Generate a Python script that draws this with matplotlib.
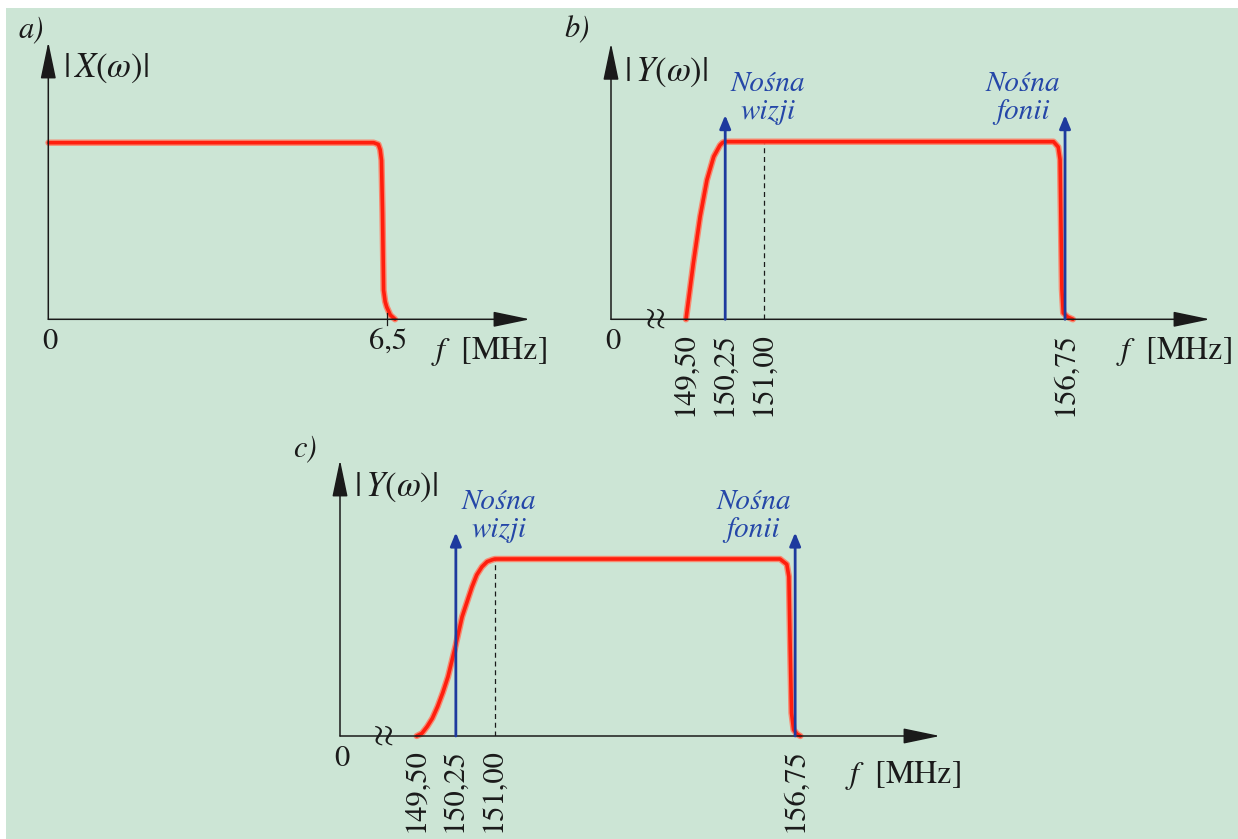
import numpy as np
import matplotlib
matplotlib.use("Agg")
import matplotlib.pyplot as plt
from matplotlib.patches import Rectangle

plt.rcParams['font.family'] = ['STIXGeneral', 'Liberation Serif', 'DejaVu Serif']
plt.rcParams['mathtext.fontset'] = 'stix'

W, H = 1238, 839
BG = '#cce5d5'
RED_CORE = '#ff1e0e'
RED_GLOW = '#ff7a60'
BLUE = '#1e3a9e'
BLUE_TXT = '#2547a8'
INK = '#1a1a1a'

# a) baseband video spectrum |X(w)|
freq_a = [0.0, 6.25, 6.34, 6.375, 6.40, 6.42, 6.44, 6.47, 6.50, 6.57, 6.66]
amp_a = [1.0, 1.0, 0.99, 0.96, 0.90, 0.60, 0.165, 0.10, 0.07, 0.024, 0.0]
ticks_a = [0.0, 6.5]
ticklabels_a = ['0', '6,5']

# b) transmitted spectrum, ideal vestigial filter
freq_b = [149.50, 149.64, 149.77, 149.90, 150.03, 150.15, 150.20, 150.25,
          156.53, 156.62, 156.655, 156.69, 156.715, 156.80, 156.90]
amp_b = [0.0, 0.315, 0.578, 0.784, 0.916, 0.98, 0.995, 1.0,
         1.0, 0.97, 0.90, 0.17, 0.036, 0.013, 0.0]

# c) spectrum after the receiver's Nyquist slope
freq_c = [149.50, 149.60, 149.70, 149.80, 149.90, 150.00, 150.10, 150.24,
          150.37, 150.56, 150.65, 150.75, 150.85, 150.95, 151.00,
          156.46, 156.59, 156.63, 156.655, 156.68, 156.72, 156.79, 156.85]
amp_c = [0.0, 0.015, 0.053, 0.10, 0.166, 0.245, 0.335, 0.504,
         0.674, 0.843, 0.91, 0.956, 0.985, 0.996, 1.0,
         1.0, 0.97, 0.90, 0.50, 0.13, 0.035, 0.01, 0.0]

ticks_bc = [149.50, 150.25, 151.00, 156.75]
vision_carrier = 150.25
sound_carrier = 156.75
slope_end = 151.00
carrier_height = 1.15


def fx(px):
    return px / W


def fy(py):
    return 1 - py / H


def mhz_label(v):
    return f"{v:.2f}".replace('.', ',')


fig = plt.figure(figsize=(W / 100, H / 100), dpi=100)
fig.patch.set_facecolor('white')
fig.patches.append(Rectangle((fx(6), 0), 1, fy(8), transform=fig.transFigure,
                             facecolor=BG, edgecolor='none', zorder=-10))


def make_panel(ox, oy, xtip, ytip, ref_px, ref_val, ppm, amp_px):
    # ox, oy: axis origin in pixels; ref_px: pixel column of ref_val
    ax = fig.add_axes([fx(ox), fy(oy), (xtip - ox) / W, (oy - ytip) / H])
    x0 = ref_val - (ref_px - ox) / ppm
    ax.set_xlim(x0, x0 + (xtip - ox) / ppm)
    ax.set_ylim(0, (oy - ytip) / amp_px)
    ax.axis('off')
    arrow = dict(arrowstyle='-|>,head_length=2.3,head_width=0.48',
                 mutation_scale=10, color=INK, lw=1.1,
                 shrinkA=0, shrinkB=0)
    ax.annotate('', xy=(1, 0), xytext=(0, 0), xycoords='axes fraction',
                arrowprops=arrow, annotation_clip=False)
    ax.annotate('', xy=(0, 1), xytext=(0, 0), xycoords='axes fraction',
                arrowprops=arrow, annotation_clip=False)
    return ax, x0


def red_curve(ax, f, a):
    ax.plot(f, a, color=RED_GLOW, lw=4.6, solid_capstyle='round',
            solid_joinstyle='round', clip_on=False, alpha=0.85)
    ax.plot(f, a, color=RED_CORE, lw=2.6, solid_capstyle='round',
            solid_joinstyle='round', clip_on=False)


def carrier(ax, f, name, side):
    ax.annotate('', xy=(f, carrier_height), xytext=(f, 0),
                arrowprops=dict(arrowstyle='-|>,head_length=0.8,head_width=0.33',
                                mutation_scale=10, color=BLUE, lw=2.0,
                                shrinkA=0, shrinkB=0), zorder=4)
    dx = 31 if side == 'right' else -30
    ax.annotate('Nośna', xy=(f, carrier_height), xytext=(dx, 17),
                textcoords='offset points', ha='center', va='baseline',
                fontsize=21, style='italic', color=BLUE_TXT)
    ax.annotate(name, xy=(f, carrier_height), xytext=(dx, -3),
                textcoords='offset points', ha='center', va='baseline',
                fontsize=21, style='italic', color=BLUE_TXT)


def freq_label(px, py):
    fig.text(fx(px), fy(py), r'$f$  [MHz]', fontsize=23, ha='left',
             va='center', color=INK)


def magnitude_label(px, py, sym):
    fig.text(fx(px), fy(py), '|' + r'$\,' + sym + r'(\omega)$' + '|',
             fontsize=25, ha='left', va='center', color=INK)


def break_mark(ax, x):
    ax.text(x, 0, r'$\wr\!\wr$', fontsize=24, ha='center', va='center',
            color=INK, zorder=5)


# ---- a) ----
ax_a, _ = make_panel(48.3, 319.3, 530, 42, 386.7, 6.5, 52.03, 176.6)
red_curve(ax_a, freq_a, amp_a)
ax_a.plot([6.5, 6.5], [-0.035, 0.035], color=INK, lw=0.9, clip_on=False)
for v, lab in zip(ticks_a, ticklabels_a):
    ax_a.annotate(lab, xy=(v, 0), xytext=(1, -16.5), textcoords='offset points',
                  ha='center', va='center', fontsize=22, color=INK)
fig.text(fx(31), fy(29), 'a)', fontsize=22, style='italic', ha='center',
         va='center', color=INK)
magnitude_label(63, 68, 'X')
freq_label(431, 352)

# ---- b) and c) ----
for (ox, oy, xtip, ytip, ref_px, ppm, amp_px, f, a, letter, lpos, ypos,
     fpos, brk) in [
        (611, 319.3, 1210, 43.3, 686, 52.28, 177.6, freq_b, amp_b, 'b)',
         (577, 29), (624, 72), (1116, 352), 655),
        (340, 736, 940, 460, 416.7, 52.2, 177, freq_c, amp_c, 'c)',
         (305, 448), (354, 487), (845, 775), 383.3)]:
    ax, x0 = make_panel(ox, oy, xtip, ytip, ref_px, 149.50, ppm, amp_px)
    ax.plot([slope_end, slope_end], [0, 1], color=INK, lw=0.9,
            dashes=(4, 3), zorder=2)
    red_curve(ax, f, a)
    carrier(ax, vision_carrier, 'wizji', 'right')
    carrier(ax, sound_carrier, 'fonii', 'left')
    break_mark(ax, x0 + (brk - ox) / ppm)
    ax.annotate('0', xy=(x0, 0), xytext=(1.5, -16.5), textcoords='offset points',
                ha='center', va='center', fontsize=22, color=INK)
    for v in ticks_bc:
        ax.annotate(mhz_label(v), xy=(v, 0), xytext=(0, -9),
                    textcoords='offset points', ha='center', va='top',
                    rotation=90, fontsize=22, color=INK)
    fig.text(fx(lpos[0]), fy(lpos[1]), letter, fontsize=22, style='italic',
             ha='center', va='center', color=INK)
    magnitude_label(ypos[0], ypos[1], 'Y')
    freq_label(*fpos)

fig.savefig('out.png', dpi=100, facecolor=fig.get_facecolor())
